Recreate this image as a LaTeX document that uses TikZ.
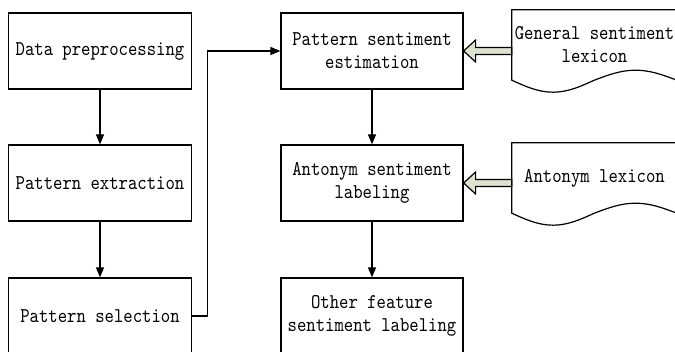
\documentclass[tikz,border=0pt]{standalone}
\usepackage{fontspec}
\setmonofont{lmmono10-regular.otf}[FakeStretch=0.85]
\usetikzlibrary{
    arrows.meta,
    calc
}
\definecolor{lexfill}{RGB}{222,226,208}

\newcommand{\lexiconframe}[1]{%
    \draw[frame]
        (#1.south east) -- (#1.north east) -- (#1.north west) -- (#1.south west)
        sin ++(41.25,-12) cos ++(41.25,12) sin ++(41.25,10) cos ++(41.25,-10);%
}
\newcommand{\feedarrow}[2]{%
    \draw[feed]
        let \p1 = (#1.west), \p2 = (#2.east) in
        (\p2) -- (\x2+12pt,\y2+11pt) -- (\x2+12pt,\y2+3.5pt) -- (\x1,\y2+3.5pt)
        -- (\x1,\y2-3.5pt) -- (\x2+12pt,\y2-3.5pt) -- (\x2+12pt,\y2-11pt) -- cycle;%
}

\begin{document}
\begin{tikzpicture}[
    x=1pt,
    y=1pt,
    box/.style={
        rectangle,
        draw,
        line width=1.2pt,
        align=center,
        minimum width=183pt,
        minimum height=76pt,
        inner sep=2pt,
        font=\ttfamily\fontsize{21}{23}\selectfont
    },
    lexicon/.style={
        rectangle,
        align=center,
        minimum width=165pt,
        minimum height=70pt,
        inner sep=0pt,
        font=\ttfamily\fontsize{21}{23}\selectfont
    },
    frame/.style={
        line width=1.2pt
    },
    arrow/.style={
        -{Triangle[length=10pt,width=8pt]},
        line width=1.2pt
    },
    feed/.style={
        draw,
        fill=lexfill,
        line width=1.2pt,
        line join=miter
    }
]
\useasboundingbox (0,0) rectangle (675,351);
\clip (0,0) rectangle (675,351);

% preparation steps

\node[box] (preprocessing) at (100,300) {Data preprocessing};
\node[box] (extraction) at (100,168) {Pattern extraction};
\node[box] (selection) at (100,35) {Pattern selection};

% labeling steps

\node[box, minimum width=182pt] (estimation) at (372,300) {
    Pattern sentiment\\
    estimation
};
\node[box, minimum width=182pt] (antonym) at (372,168) {
    Antonym sentiment\\
    labeling
};
\node[box, minimum width=182pt] (other) at (372,35) {
    Other feature\\
    sentiment labeling
};

% lexicons

\node[lexicon] (general) at (594.5,306) {
    General sentiment\\
    lexicon
};
\node[lexicon] (antolex) at (594.5,173) {Antonym lexicon};
\lexiconframe{general}
\lexiconframe{antolex}

% flow

\draw[arrow] (preprocessing) -- (extraction);
\draw[arrow] (extraction) -- (selection);
\draw[arrow]
    (selection.east) -- ++(15.5,0)
    |- (estimation.west);
\draw[arrow] (estimation) -- (antonym);
\draw[arrow] (antonym) -- (other);

% lexicon inputs

\feedarrow{general}{estimation}
\feedarrow{antolex}{antonym}

\end{tikzpicture}
\end{document}
